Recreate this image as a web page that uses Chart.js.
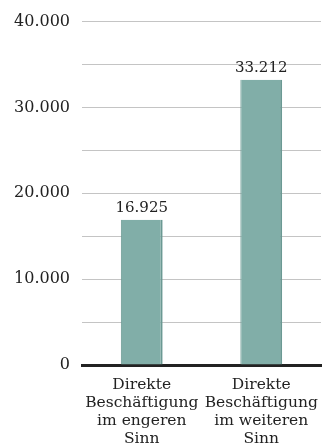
<!DOCTYPE html>
<html>
<head>
<meta charset="utf-8">
<script src="https://cdn.jsdelivr.net/npm/chart.js@4/dist/chart.umd.min.js"></script>
<style>
  html, body { margin: 0; padding: 0; background: #fff; }
  #wrap { width: 336px; height: 445px; }
</style>
</head>
<body>
<div id="wrap"><canvas id="chart" width="336" height="445"></canvas></div>
<script>
// Data
const categories = [
    ['Direkte', 'Beschäftigung', 'im engeren', 'Sinn'],
    ['Direkte', 'Beschäftigung', 'im weiteren', 'Sinn'],
];
const employment = [16925, 33212];
const yMax = 40000;
const yStep = 5000;
const yLabelStep = 10000;

// German thousands separator
function formatNumber(v) {
    return String(v).replace(/\B(?=(\d{3})+(?!\d))/g, '.');
}

const fontFamily = '"DejaVu Serif", "Liberation Serif", serif';

// Value labels above the bars
const valueLabels = {
    id: 'valueLabels',
    afterDatasetsDraw(chart) {
        const ctx = chart.ctx;
        const meta = chart.getDatasetMeta(0);
        ctx.save();
        ctx.font = '15px ' + fontFamily;
        ctx.fillStyle = '#222';
        ctx.textAlign = 'center';
        ctx.textBaseline = 'bottom';
        meta.data.forEach((bar, i) => {
            ctx.fillText(formatNumber(employment[i]), bar.x, bar.y - 4);
        });
        ctx.restore();
    }
};

document.addEventListener('DOMContentLoaded', () => {
    const ctx = document.getElementById('chart').getContext('2d');
    new Chart(ctx, {
        type: 'bar',
        data: {
            labels: categories,
            datasets: [{
                data: employment,
                backgroundColor: '#81aea8',
                borderColor: '#6b9993',
                borderWidth: { left: 1, right: 2, top: 0, bottom: 0 },
                borderSkipped: false,
                barPercentage: 0.35,
                categoryPercentage: 1,
            }],
        },
        options: {
            responsive: false,
            animation: false,
            layout: { padding: { top: 19, right: 15, left: 0, bottom: 0 } },
            plugins: {
                legend: { display: false },
                tooltip: { enabled: false },
            },
            scales: {
                x: {
                    grid: { display: false, drawTicks: false },
                    border: { display: true, color: '#222', width: 3 },
                    ticks: {
                        color: '#222',
                        font: { family: fontFamily, size: 15.5, lineHeight: 1.16 },
                        padding: 11,
                        maxRotation: 0,
                        autoSkip: false,
                    },
                    afterFit: scale => { scale.height = 80; },
                },
                y: {
                    min: 0,
                    max: yMax,
                    grid: { color: '#c4c4c4', lineWidth: 1, drawTicks: false },
                    border: { display: false },
                    ticks: {
                        stepSize: yStep,
                        color: '#222',
                        font: { family: fontFamily, size: 16 },
                        padding: 12,
                        callback: v => (v % yLabelStep === 0 ? formatNumber(v) : ''),
                    },
                    afterFit: scale => { scale.width = 82; },
                },
            },
        },
        plugins: [valueLabels],
    });
});
</script>
</body>
</html>
